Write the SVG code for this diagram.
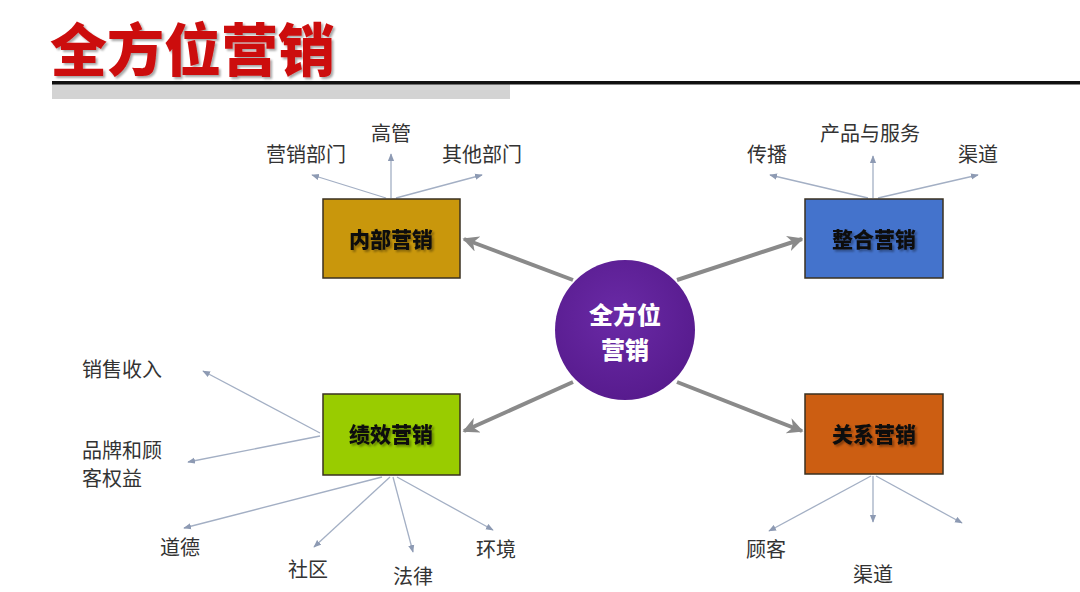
<svg xmlns="http://www.w3.org/2000/svg" width="1080" height="592" viewBox="0 0 1080 592">
<defs>
<style>
.title{font-family:"Noto Sans CJK SC","Liberation Sans",sans-serif;font-weight:900;font-size:57px;fill:#cc0a0a}
.lbl{font-family:"Noto Sans CJK SC","Liberation Sans",sans-serif;font-size:20px;fill:#333333}
.box{stroke:#3a3020;stroke-width:1.5}
.btxt{font-family:"Noto Sans CJK SC","Liberation Sans",sans-serif;font-weight:900;font-size:21px;fill:#111111;text-anchor:middle}
.ctxt{font-family:"Noto Sans CJK SC","Liberation Sans",sans-serif;font-weight:900;font-size:24px;fill:#ffffff;text-anchor:middle}
.thick{stroke:#8a8a8a;stroke-width:4;fill:none;marker-end:url(#big)}
.thin{stroke:#a3afc4;stroke-width:1.3;fill:none;marker-end:url(#small)}
.mid{text-anchor:middle}
</style>
<marker id="big" viewBox="0 0 10 10" refX="9" refY="5" markerWidth="4" markerHeight="4" orient="auto" markerUnits="strokeWidth">
<path d="M0,0 L10,5 L0,10 L3,5 Z" fill="#8a8a8a"/>
</marker>
<marker id="small" viewBox="0 0 10 10" refX="9" refY="5" markerWidth="6" markerHeight="6" orient="auto" markerUnits="strokeWidth">
<path d="M0,1 L10,5 L0,9 Z" fill="#8d9ab3"/>
</marker>
<radialGradient id="purple" cx="0.45" cy="0.4" r="0.65">
<stop offset="0" stop-color="#6a2aa6"/>
<stop offset="1" stop-color="#561a8c"/>
</radialGradient>
<filter id="sh" x="-10%" y="-10%" width="130%" height="130%">
<feGaussianBlur in="SourceAlpha" stdDeviation="1"/>
<feOffset dx="1.5" dy="1.5"/>
<feComponentTransfer><feFuncA type="linear" slope="0.35"/></feComponentTransfer>
<feMerge><feMergeNode/><feMergeNode in="SourceGraphic"/></feMerge>
</filter>
</defs>
<rect width="1080" height="592" fill="#ffffff"/>

<g id="header">
<text class="title" x="50" y="71" filter="url(#sh)">全方位营销</text>
<rect x="52" y="84" width="458" height="15" fill="#d3d3d3"/>
<rect x="52" y="81" width="1028" height="3.5" fill="#111111"/>
</g>

<g id="connectors">
<line class="thick" x1="573" y1="280" x2="464" y2="239"/>
<line class="thick" x1="677" y1="280" x2="802" y2="239"/>
<line class="thick" x1="573" y1="382" x2="464" y2="431"/>
<line class="thick" x1="677" y1="382" x2="802" y2="431"/>

<line class="thin" x1="386" y1="198" x2="312" y2="175"/>
<line class="thin" x1="391" y1="198" x2="391" y2="154"/>
<line class="thin" x1="396" y1="198" x2="482" y2="175"/>

<line class="thin" x1="868" y1="198" x2="770" y2="175"/>
<line class="thin" x1="873" y1="198" x2="873" y2="156"/>
<line class="thin" x1="878" y1="198" x2="978" y2="175"/>

<line class="thin" x1="320" y1="433" x2="203" y2="371"/>
<line class="thin" x1="320" y1="436" x2="188" y2="462"/>
<line class="thin" x1="382" y1="477" x2="184" y2="528"/>
<line class="thin" x1="390" y1="477" x2="314" y2="547"/>
<line class="thin" x1="393" y1="477" x2="413" y2="552"/>
<line class="thin" x1="397" y1="477" x2="493" y2="530"/>

<line class="thin" x1="871" y1="476" x2="769" y2="531"/>
<line class="thin" x1="873" y1="476" x2="873" y2="522"/>
<line class="thin" x1="876" y1="476" x2="962" y2="523"/>
</g>

<g id="center">
<circle cx="625" cy="330" r="70" fill="url(#purple)"/>
<text class="ctxt" x="625" y="324">全方位</text>
<text class="ctxt" x="625" y="359">营销</text>
</g>

<g id="internal">
<rect class="box" x="323" y="199" width="137" height="79" fill="#c9970c"/>
<text class="btxt" x="391" y="247" filter="url(#sh)">内部营销</text>
</g>
<g id="integrated">
<rect class="box" x="805" y="199" width="138" height="79" fill="#4473cc" stroke="#1f3a70"/>
<text class="btxt" x="874" y="247" filter="url(#sh)">整合营销</text>
</g>
<g id="performance">
<rect class="box" x="323" y="394" width="137" height="81" fill="#99cc00" stroke="#3d5200"/>
<text class="btxt" x="391" y="442" filter="url(#sh)">绩效营销</text>
</g>
<g id="relationship">
<rect class="box" x="805" y="394" width="138" height="80" fill="#cc5e12" stroke="#4a2000"/>
<text class="btxt" x="874" y="442" filter="url(#sh)">关系营销</text>
</g>

<g id="labels">
<text class="lbl mid" x="306" y="162">营销部门</text>
<text class="lbl mid" x="391" y="141">高管</text>
<text class="lbl mid" x="482" y="162">其他部门</text>
<text class="lbl mid" x="767" y="162">传播</text>
<text class="lbl mid" x="870" y="141">产品与服务</text>
<text class="lbl mid" x="978" y="162">渠道</text>
<text class="lbl" x="82" y="377">销售收入</text>
<text class="lbl" x="82" y="458">品牌和顾</text>
<text class="lbl" x="82" y="486">客权益</text>
<text class="lbl mid" x="180" y="555">道德</text>
<text class="lbl mid" x="308" y="577">社区</text>
<text class="lbl mid" x="413" y="584">法律</text>
<text class="lbl mid" x="496" y="557">环境</text>
<text class="lbl mid" x="766" y="557">顾客</text>
<text class="lbl mid" x="873" y="582">渠道</text>
</g>
</svg>
